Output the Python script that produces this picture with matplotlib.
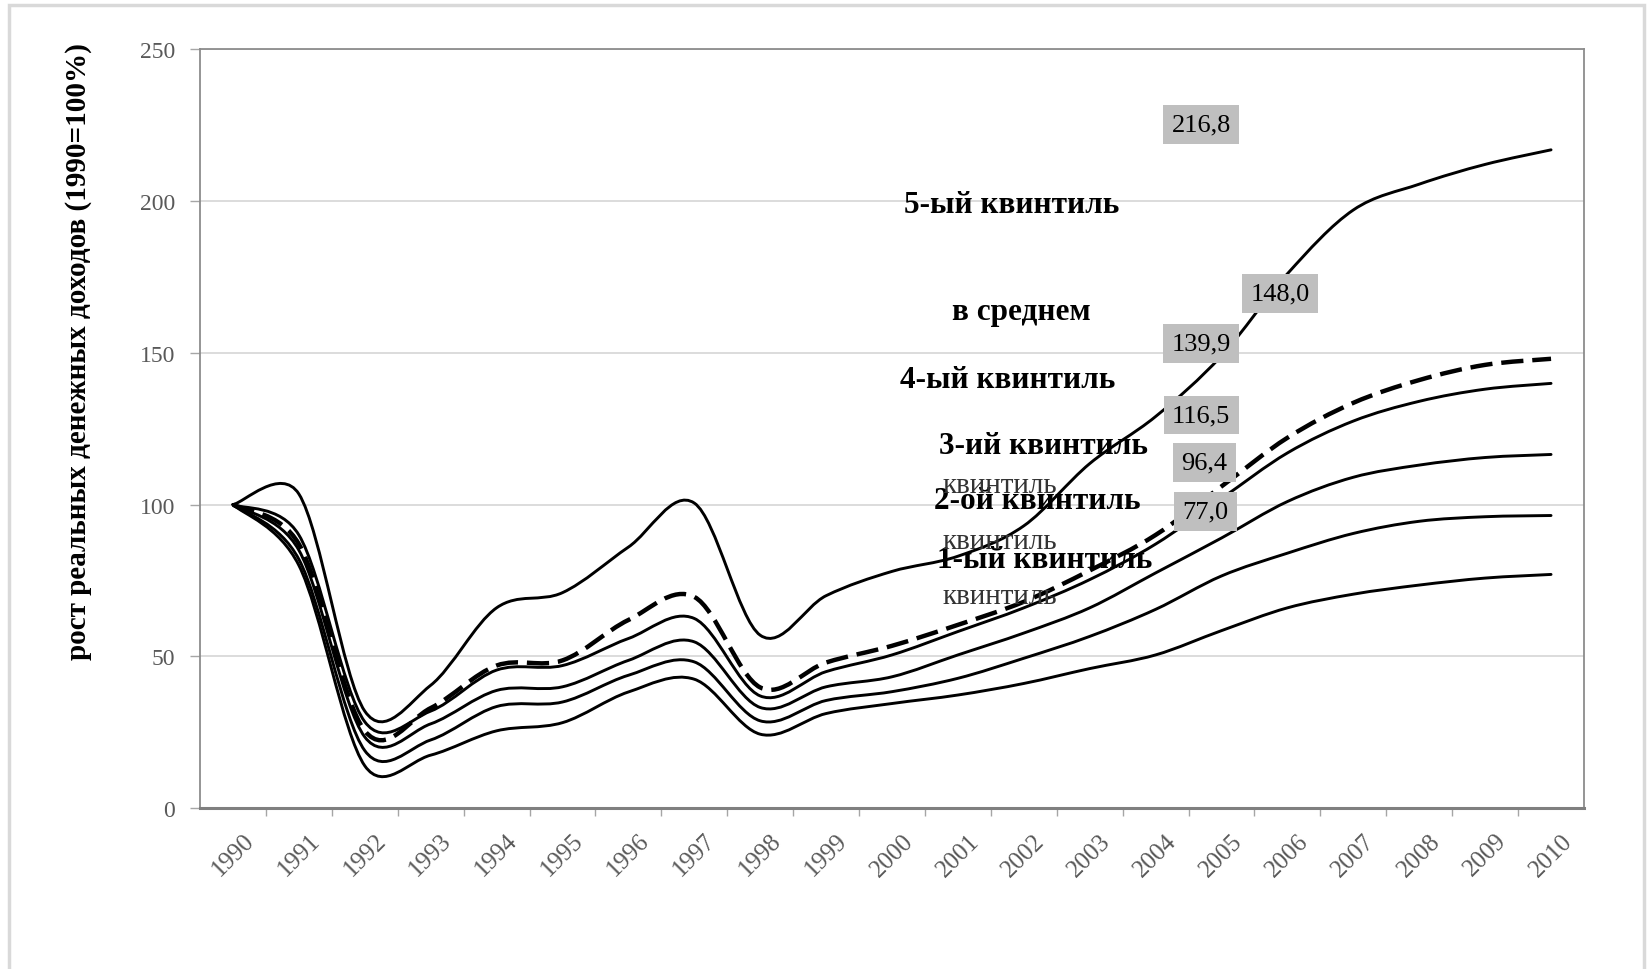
import numpy as np
import matplotlib
matplotlib.use("Agg")
import matplotlib.pyplot as plt
from matplotlib.path import Path
from matplotlib.patches import PathPatch, Rectangle

years = [str(y) for y in range(1990, 2011)]

# рост реальных денежных доходов по квинтилям, 1990=100%
q5 = [100, 103.5, 32, 40.5, 66, 71, 86, 100.5, 57, 70, 78, 83, 93, 113.5, 129, 149, 176, 197, 205.5, 212, 216.8]
avg = [100, 87, 25.5, 33, 47, 48.7, 62, 69.6, 39.8, 48, 53.5, 60.4, 68, 78.3, 90, 106, 122, 133.5, 141, 146, 148.0]
q4 = [100, 90, 28.5, 32, 45.5, 47, 55.9, 62.5, 37, 45, 50.5, 58.2, 66, 75.3, 87, 102, 117, 127.5, 134, 138, 139.9]
q3 = [100, 85, 23.5, 27.8, 38.8, 40, 48.7, 54.8, 33.2, 40, 43.3, 50.5, 57.7, 66, 77.5, 89, 101, 109, 113, 115.5, 116.5]
q2 = [100, 82, 19, 22.5, 33.5, 35, 43.8, 48.2, 28.8, 35.5, 38.4, 42.8, 49.4, 56.6, 65.5, 76.5, 84, 90.5, 94.5, 96, 96.4]
q1 = [100, 80, 14, 17.5, 25.5, 28.2, 38.3, 42.5, 24.4, 31.2, 34.5, 37.3, 41.1, 46, 50.5, 58.5, 66, 70.5, 73.5, 75.8, 77.0]

end_labels = ["216,8", "148,0", "139,9", "116,5", "96,4", "77,0"]

plt.rcParams['font.family'] = ['Liberation Serif', 'DejaVu Serif']

W, H = 1648, 970
fig = plt.figure(figsize=(W / 100, H / 100), dpi=100)
ax = fig.add_axes([200 / W, 1 - 809.3 / H, (1584 - 200) / W, (809.3 - 50) / H])
ax.set_xlim(-0.5, 20.5)
ax.set_ylim(0, 250)


def excel_smooth_path(ax, xs, ys):
    # bezier segments like Excel's "smoothed line"
    d = np.column_stack([xs, ys]).astype(float)
    p = ax.transData.transform(d)
    verts = [d[0]]
    codes = [Path.MOVETO]
    n = len(d)
    for i in range(n - 1):
        i0 = max(i - 1, 0)
        i3 = min(i + 2, n - 1)
        d02 = np.hypot(*(p[i + 1] - p[i0]))
        d12 = np.hypot(*(p[i + 1] - p[i]))
        d13 = np.hypot(*(p[i3] - p[i]))
        f1 = 1 / 6 if d02 / 6 < d12 / 2 else d12 / (2 * d02)
        f2 = 1 / 6 if d13 / 6 < d12 / 2 else d12 / (2 * d13)
        b1 = d[i] + (d[i + 1] - d[i0]) * f1
        b2 = d[i + 1] - (d[i3] - d[i]) * f2
        verts += [b1, b2, d[i + 1]]
        codes += [Path.CURVE4] * 3
    return Path(verts, codes)


x = np.arange(len(years))
for ser in [q5, q4, q3, q2, q1]:
    ax.add_patch(PathPatch(excel_smooth_path(ax, x, ser), fill=False, ec='black',
                           lw=2.1, zorder=3, capstyle='round', joinstyle='round'))
ax.add_patch(PathPatch(excel_smooth_path(ax, x, avg), fill=False, ec='black',
                       lw=3.2, ls=(0, (5, 2)), zorder=3))

# grid and frame
ax.set_yticks([0, 50, 100, 150, 200, 250])
ax.yaxis.grid(True, color='#d9d9d9', lw=1.3)
ax.set_axisbelow(True)
for s in ['top', 'right', 'left']:
    ax.spines[s].set_color('#8c8c8c')
    ax.spines[s].set_linewidth(1.3)
ax.spines['bottom'].set_color('#7f7f7f')
ax.spines['bottom'].set_linewidth(2.2)

ax.set_xticks(x)
ax.set_xticklabels(years, rotation=45, ha='center', va='top')
ax.set_xticks(np.arange(0.5, 20, 1), minor=True)
ax.tick_params(axis='x', which='major', length=0, pad=15, labelsize=18, labelcolor='#595959')
ax.tick_params(axis='x', which='minor', length=6, color='#a6a6a6', width=1)
ax.tick_params(axis='y', length=7, color='#a6a6a6', width=1, pad=11, labelsize=17,
               labelcolor='#595959')

fig.text(79 / W, 1 - 352 / H, 'рост реальных денежных доходов (1990=100%)',
         rotation=90, ha='center', va='center', fontsize=21, fontweight='bold')

# series names
names = [("5-ый квинтиль", 11.81, 198.7), ("в среднем", 11.96, 163.5),
         ("4-ый квинтиль", 11.75, 141.1), ("3-ий квинтиль", 12.30, 119.4),
         ("2-ой квинтиль", 12.21, 101.2), ("1-ый квинтиль", 12.31, 81.8)]
for t, tx, ty in names:
    ax.text(tx, ty, t, ha='center', va='center', fontsize=22.5, fontweight='bold', zorder=5)
for ty in [106.5, 88.0, 69.9]:
    ax.text(11.64, ty, "квинтиль", ha='center', va='center', fontsize=21,
            color='#333333', zorder=5)

# end values in gray boxes
box_pos = [(14.69, 225.0), (15.89, 169.4), (14.69, 152.9), (14.69, 129.5),
           (14.74, 114.0), (14.75, 97.6)]
for lab, (tx, ty) in zip(end_labels, box_pos):
    ax.text(tx, ty, lab, ha='center', va='center', fontsize=19, zorder=6,
            bbox=dict(boxstyle='square,pad=0.32', fc='#bfbfbf', ec='none'))

# outer chart border
fig.patches.append(Rectangle((9 / W, -0.05), (1644 - 9) / W, 1.05 - 6 / H,
                             transform=fig.transFigure, fill=False,
                             ec='#d9d9d9', lw=2.5))

fig.savefig('out.png', dpi=100)
